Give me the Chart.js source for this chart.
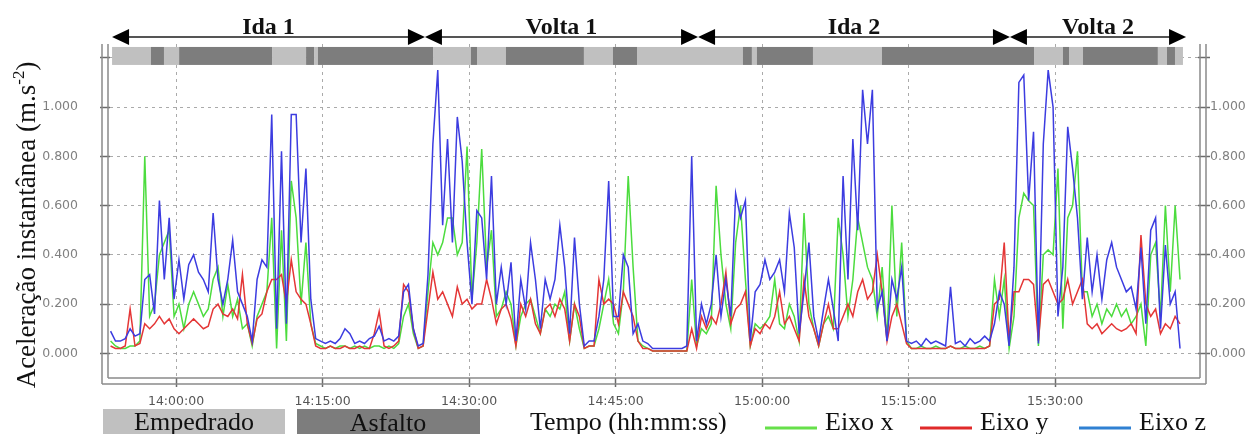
<!DOCTYPE html>
<html lang="pt">
<head>
<meta charset="UTF-8">
<title>Aceleração instantânea - Ida e Volta</title>
<script src="https://cdn.jsdelivr.net/npm/chart.js"></script>
<style>
    html, body { margin: 0; padding: 0; background: #fff; }
    canvas { display: block; }
</style>
</head>
<body>
<canvas id="accelChart" width="1247" height="434"></canvas>

<script>
    // amostras a cada 30 s
    const sampleStart = '13:53:18';
    const sampleStepSec = 30;

    const eixoX = [
        0.05, 0.03, 0.02, 0.02, 0.03, 0.03, 0.05, 0.80, 0.15, 0.20,
        0.40, 0.45, 0.50, 0.15, 0.20, 0.10, 0.20, 0.25, 0.20, 0.15,
        0.18, 0.30, 0.35, 0.15, 0.28, 0.15, 0.22, 0.10, 0.12, 0.03,
        0.15, 0.20, 0.25, 0.55, 0.02, 0.50, 0.05, 0.70, 0.55, 0.20,
        0.45, 0.12, 0.04, 0.03, 0.02, 0.03, 0.02, 0.03, 0.03, 0.02,
        0.03, 0.02, 0.03, 0.02, 0.03, 0.03, 0.02, 0.03, 0.02, 0.04,
        0.15, 0.20, 0.08, 0.02, 0.03, 0.25, 0.45, 0.40, 0.45, 0.55,
        0.55, 0.40, 0.45, 0.84, 0.22, 0.45, 0.83, 0.35, 0.50, 0.15,
        0.18, 0.25, 0.20, 0.03, 0.15, 0.20, 0.22, 0.15, 0.08, 0.18,
        0.15, 0.20, 0.18, 0.25, 0.05, 0.20, 0.10, 0.02, 0.03, 0.03,
        0.10, 0.20, 0.30, 0.12, 0.08, 0.25, 0.72, 0.35, 0.05, 0.03,
        0.02, 0.01, 0.01, 0.01, 0.01, 0.01, 0.01, 0.01, 0.01, 0.30,
        0.03, 0.10, 0.08, 0.12, 0.68, 0.40, 0.20, 0.10, 0.45, 0.60,
        0.30, 0.03, 0.12, 0.10, 0.12, 0.15, 0.30, 0.12, 0.10, 0.20,
        0.15, 0.05, 0.57, 0.20, 0.10, 0.03, 0.12, 0.15, 0.10, 0.55,
        0.40, 0.15, 0.30, 0.55, 0.45, 0.35, 0.30, 0.15, 0.35, 0.05,
        0.60, 0.15, 0.45, 0.05, 0.02, 0.02, 0.03, 0.02, 0.02, 0.03,
        0.02, 0.02, 0.03, 0.02, 0.02, 0.03, 0.02, 0.02, 0.03, 0.02,
        0.03, 0.30, 0.15, 0.30, 0.02, 0.15, 0.55, 0.65, 0.62, 0.60,
        0.03, 0.40, 0.42, 0.40, 0.75, 0.10, 0.55, 0.60, 0.82, 0.25,
        0.25, 0.15, 0.20, 0.12, 0.18, 0.15, 0.20, 0.15, 0.18, 0.12,
        0.15, 0.20, 0.03, 0.40, 0.45, 0.15, 0.60, 0.25, 0.60, 0.30
    ];

    const eixoY = [
        0.03, 0.02, 0.02, 0.03, 0.18, 0.03, 0.04, 0.12, 0.10, 0.12,
        0.15, 0.12, 0.14, 0.10, 0.08, 0.10, 0.12, 0.14, 0.12, 0.10,
        0.11, 0.18, 0.20, 0.16, 0.15, 0.18, 0.14, 0.32, 0.12, 0.04,
        0.14, 0.16, 0.25, 0.30, 0.30, 0.32, 0.20, 0.38, 0.25, 0.22,
        0.20, 0.12, 0.03, 0.02, 0.02, 0.03, 0.02, 0.02, 0.03, 0.02,
        0.02, 0.03, 0.02, 0.02, 0.08, 0.17, 0.03, 0.02, 0.03, 0.05,
        0.28, 0.25, 0.10, 0.02, 0.03, 0.18, 0.33, 0.22, 0.25, 0.20,
        0.15, 0.27, 0.20, 0.22, 0.18, 0.20, 0.20, 0.30, 0.22, 0.12,
        0.18, 0.20, 0.14, 0.03, 0.20, 0.15, 0.22, 0.12, 0.08, 0.18,
        0.20, 0.15, 0.22, 0.18, 0.05, 0.20, 0.15, 0.02, 0.03, 0.03,
        0.30, 0.20, 0.22, 0.20, 0.12, 0.25, 0.20, 0.15, 0.05, 0.02,
        0.02, 0.01, 0.01, 0.01, 0.01, 0.01, 0.01, 0.01, 0.01, 0.10,
        0.02, 0.15, 0.10, 0.15, 0.12, 0.20, 0.33, 0.12, 0.18, 0.20,
        0.25, 0.03, 0.10, 0.08, 0.12, 0.10, 0.15, 0.25, 0.12, 0.15,
        0.10, 0.05, 0.30, 0.15, 0.10, 0.03, 0.12, 0.20, 0.10, 0.10,
        0.15, 0.20, 0.15, 0.25, 0.30, 0.22, 0.25, 0.40, 0.25, 0.05,
        0.15, 0.20, 0.12, 0.04, 0.02, 0.02, 0.02, 0.02, 0.02, 0.02,
        0.02, 0.02, 0.03, 0.02, 0.02, 0.02, 0.02, 0.02, 0.02, 0.02,
        0.03, 0.20, 0.22, 0.45, 0.05, 0.25, 0.25, 0.30, 0.30, 0.28,
        0.05, 0.28, 0.30, 0.25, 0.20, 0.22, 0.30, 0.20, 0.25, 0.30,
        0.12, 0.10, 0.12, 0.08, 0.10, 0.12, 0.10, 0.09, 0.10, 0.12,
        0.08, 0.48, 0.20, 0.15, 0.18, 0.08, 0.12, 0.10, 0.15, 0.12
    ];

    const eixoZ = [
        0.09, 0.05, 0.05, 0.06, 0.10, 0.07, 0.08, 0.30, 0.32, 0.16,
        0.62, 0.30, 0.55, 0.22, 0.38, 0.22, 0.36, 0.40, 0.33, 0.30,
        0.25, 0.57, 0.30, 0.20, 0.30, 0.46, 0.25, 0.20, 0.15, 0.05,
        0.30, 0.38, 0.35, 0.97, 0.10, 0.82, 0.12, 0.97, 0.97, 0.45,
        0.75, 0.22, 0.06, 0.05, 0.04, 0.05, 0.04, 0.06, 0.10, 0.08,
        0.04, 0.05, 0.04, 0.06, 0.07, 0.11, 0.05, 0.06, 0.05, 0.07,
        0.25, 0.28, 0.10, 0.03, 0.04, 0.32, 0.85, 1.15, 0.52, 0.87,
        0.45, 0.96, 0.78, 0.45, 0.20, 0.58, 0.55, 0.30, 0.72, 0.20,
        0.35, 0.20, 0.37, 0.05, 0.30, 0.18, 0.45, 0.30, 0.10, 0.30,
        0.22, 0.30, 0.52, 0.35, 0.08, 0.47, 0.20, 0.03, 0.05, 0.05,
        0.15, 0.30, 0.70, 0.15, 0.15, 0.40, 0.35, 0.08, 0.12, 0.05,
        0.04, 0.02, 0.02, 0.02, 0.02, 0.02, 0.02, 0.02, 0.03, 0.80,
        0.05, 0.20, 0.12, 0.20, 0.40, 0.15, 0.30, 0.15, 0.65, 0.55,
        0.62, 0.05, 0.25, 0.28, 0.38, 0.30, 0.33, 0.38, 0.25, 0.57,
        0.43, 0.08, 0.25, 0.45, 0.15, 0.05, 0.18, 0.30, 0.18, 0.05,
        0.72, 0.30, 0.87, 0.50, 1.07, 0.85, 1.07, 0.18, 0.25, 0.05,
        0.30, 0.22, 0.35, 0.05, 0.04, 0.05, 0.03, 0.06, 0.04, 0.05,
        0.04, 0.03, 0.27, 0.04, 0.05, 0.03, 0.06, 0.04, 0.05, 0.07,
        0.05, 0.12, 0.25, 0.20, 0.03, 0.35, 1.10, 1.13, 0.62, 0.90,
        0.04, 0.85, 1.15, 1.00, 0.15, 0.35, 0.92, 0.75, 0.55, 0.22,
        0.47, 0.25, 0.40, 0.22, 0.38, 0.45, 0.35, 0.30, 0.25, 0.27,
        0.18, 0.43, 0.12, 0.50, 0.55, 0.10, 0.44, 0.20, 0.25, 0.02
    ];

    const timeTicks = ['14:00:00', '14:15:00', '14:30:00', '14:45:00', '15:00:00', '15:15:00', '15:30:00'];
    const accelTicks = [0, 0.2, 0.4, 0.6, 0.8, 1.0, 1.2];
    const accelLabelMax = 1.0;

    const phaseNames = ['Ida 1', 'Volta 1', 'Ida 2', 'Volta 2'];
    const phaseLimits = ['13:53:27', '14:25:29', '14:53:27', '15:25:23', '15:43:25'];

    const surfaceLimits = [
        '13:53:27', '13:57:26', '13:58:46', '14:00:19', '14:09:50', '14:13:19', '14:14:08',
        '14:14:32', '14:26:19', '14:30:12', '14:30:49', '14:33:47', '14:41:46', '14:44:44',
        '14:47:12', '14:58:03', '14:58:58', '14:59:29', '15:05:13', '15:12:17', '15:27:51',
        '15:30:49', '15:31:26', '15:32:52', '15:40:32', '15:41:28', '15:42:17', '15:43:06'
    ];
    const surfaceTypes = [
        'Empedrado', 'Asfalto', 'Empedrado', 'Asfalto', 'Empedrado', 'Asfalto', 'Empedrado',
        'Asfalto', 'Empedrado', 'Asfalto', 'Empedrado', 'Asfalto', 'Empedrado', 'Asfalto',
        'Empedrado', 'Asfalto', 'Empedrado', 'Asfalto', 'Empedrado', 'Asfalto', 'Empedrado',
        'Asfalto', 'Empedrado', 'Asfalto', 'Empedrado', 'Asfalto', 'Empedrado'
    ];

    const surfaceColors = { Empedrado: '#c0c0c0', Asfalto: '#7d7d7d' };
    const serif = '"Liberation Serif", "Times New Roman", serif';

    // minutos desde 14:00:00
    function toMin(hms) {
        const [h, m, s] = hms.split(':').map(Number);
        return h * 60 + m + s / 60 - 14 * 60;
    }
    function toHms(v) {
        const tot = Math.round((v + 14 * 60) * 60);
        const pad = n => String(n).padStart(2, '0');
        return pad(Math.floor(tot / 3600)) + ':' + pad(Math.floor(tot % 3600 / 60)) + ':' + pad(tot % 60);
    }

    const t0 = toMin(sampleStart);
    const toPoints = arr => arr.map((v, i) => ({ x: t0 + i * sampleStepSec / 60, y: v }));

    function line(ctx, x1, y1, x2, y2) {
        ctx.beginPath();
        ctx.moveTo(x1, y1);
        ctx.lineTo(x2, y2);
        ctx.stroke();
    }

    const decorPlugin = {
        id: 'decor',
        beforeDatasetsDraw(chart) {
            const { ctx, scales: { x, y } } = chart;
            const top = y.getPixelForValue(1.244);
            const bot = y.getPixelForValue(1.171);
            ctx.save();
            for (let i = 0; i < surfaceTypes.length; i++) {
                const xa = x.getPixelForValue(toMin(surfaceLimits[i]));
                const xb = x.getPixelForValue(toMin(surfaceLimits[i + 1]));
                ctx.fillStyle = surfaceColors[surfaceTypes[i]];
                ctx.fillRect(xa, top, xb - xa, bot - top);
            }
            ctx.restore();
        },
        afterDraw(chart) {
            const { ctx, chartArea: a, scales: { x } } = chart;
            ctx.save();

            // moldura dupla
            ctx.strokeStyle = '#8a8a8a';
            ctx.lineWidth = 1.5;
            line(ctx, a.left - 2, a.top, a.left - 2, a.bottom);
            line(ctx, a.left - 2, a.bottom, a.right + 2, a.bottom);
            line(ctx, a.right + 2, a.top, a.right + 2, a.bottom);
            line(ctx, a.left - 8, a.top, a.left - 8, a.bottom + 6);
            line(ctx, a.left - 8, a.bottom + 6, a.right + 8, a.bottom + 6);
            line(ctx, a.right + 8, a.top, a.right + 8, a.bottom + 6);

            // setas Ida / Volta
            const ay = 37;
            for (let i = 0; i < phaseNames.length; i++) {
                const xa = x.getPixelForValue(toMin(phaseLimits[i]));
                const xb = x.getPixelForValue(toMin(phaseLimits[i + 1]));
                ctx.strokeStyle = '#555';
                ctx.lineWidth = 2;
                line(ctx, xa + 10, ay, xb - 10, ay);
                ctx.fillStyle = '#000';
                ctx.beginPath();
                ctx.moveTo(xa, ay); ctx.lineTo(xa + 17, ay - 8); ctx.lineTo(xa + 17, ay + 8);
                ctx.closePath(); ctx.fill();
                ctx.beginPath();
                ctx.moveTo(xb, ay); ctx.lineTo(xb - 17, ay - 8); ctx.lineTo(xb - 17, ay + 8);
                ctx.closePath(); ctx.fill();
                ctx.font = 'bold 24px ' + serif;
                ctx.textAlign = 'center';
                ctx.textBaseline = 'alphabetic';
                ctx.fillStyle = '#111';
                ctx.fillText(phaseNames[i], (xa + xb) / 2, 34);
            }

            // titulo do eixo y
            ctx.save();
            ctx.translate(35, 225);
            ctx.rotate(-Math.PI / 2);
            ctx.fillStyle = '#111';
            ctx.textAlign = 'left';
            ctx.textBaseline = 'alphabetic';
            const main = 'Aceleração instantânea (m.s';
            const sup = '-2';
            ctx.font = '27px ' + serif;
            const w1 = ctx.measureText(main).width;
            const w3 = ctx.measureText(')').width;
            ctx.font = '17px ' + serif;
            const w2 = ctx.measureText(sup).width;
            let sx = -(w1 + w2 + w3) / 2;
            ctx.font = '27px ' + serif;
            ctx.fillText(main, sx, 0);
            ctx.font = '17px ' + serif;
            ctx.fillText(sup, sx + w1, -11);
            ctx.font = '27px ' + serif;
            ctx.fillText(')', sx + w1 + w2, 0);
            ctx.restore();

            // legenda inferior
            ctx.fillStyle = surfaceColors.Empedrado;
            ctx.fillRect(103, 409, 182, 25);
            ctx.fillStyle = surfaceColors.Asfalto;
            ctx.fillRect(297, 409, 183, 25);
            ctx.font = '26px ' + serif;
            ctx.fillStyle = '#111';
            ctx.textAlign = 'center';
            ctx.textBaseline = 'alphabetic';
            ctx.fillText('Empedrado', 194, 430);
            ctx.fillText('Asfalto', 388, 431);
            ctx.textAlign = 'left';
            ctx.fillText('Tempo (hh:mm:ss)', 530, 430);

            const keys = [
                { label: 'Eixo x', color: '#66e04a', x: 765 },
                { label: 'Eixo y', color: '#e02a2a', x: 920 },
                { label: 'Eixo z', color: '#2f80d2', x: 1079 }
            ];
            keys.forEach(k => {
                ctx.strokeStyle = k.color;
                ctx.lineWidth = 3;
                line(ctx, k.x, 428, k.x + 52, 428);
                ctx.fillStyle = '#111';
                ctx.fillText(k.label, k.x + 60, 430);
            });

            ctx.restore();
        }
    };

    const tickFont = { family: '"DejaVu Sans", sans-serif', size: 12.5 };

    new Chart(document.getElementById('accelChart'), {
        type: 'line',
        data: {
            datasets: [
                { label: 'Eixo x', data: toPoints(eixoX), borderColor: '#4cdc3e', order: 3 },
                { label: 'Eixo y', data: toPoints(eixoY), borderColor: '#e43636', order: 2 },
                { label: 'Eixo z', data: toPoints(eixoZ), borderColor: '#3c3ce0', order: 1 }
            ]
        },
        options: {
            responsive: false,
            devicePixelRatio: 1,
            animation: false,
            layout: { padding: { top: 44, left: 0, right: 0, bottom: 0 } },
            elements: {
                line: { borderWidth: 1.5, tension: 0 },
                point: { radius: 0 }
            },
            plugins: {
                legend: { display: false },
                tooltip: { enabled: false }
            },
            scales: {
                x: {
                    type: 'linear',
                    position: 'bottom',
                    min: -6.76,
                    max: 104.64,
                    afterBuildTicks: s => { s.ticks = timeTicks.map(t => ({ value: toMin(t) })); },
                    afterFit: s => { s.height = 56; },
                    grid: { color: '#aaaaaa', tickLength: 9, tickColor: '#6a6a6a', tickWidth: 1.5 },
                    border: { display: false, dash: [3, 4] },
                    ticks: {
                        font: tickFont, color: '#555', padding: 7, maxRotation: 0, autoSkip: false,
                        callback: v => toHms(v)
                    }
                },
                y: {
                    position: 'left',
                    min: -0.1,
                    max: 1.256,
                    afterBuildTicks: s => { s.ticks = accelTicks.map(v => ({ value: v })); },
                    afterFit: s => { s.width = 110; },
                    grid: { color: '#aaaaaa', tickLength: 10, tickColor: '#6a6a6a', tickWidth: 1.5 },
                    border: { display: false, dash: [3, 4] },
                    ticks: {
                        font: tickFont, color: '#808080', padding: 22,
                        callback: v => v <= accelLabelMax ? v.toFixed(3) : ''
                    }
                },
                y2: {
                    position: 'right',
                    min: -0.1,
                    max: 1.256,
                    afterBuildTicks: s => { s.ticks = accelTicks.map(v => ({ value: v })); },
                    afterFit: s => { s.width = 49; },
                    grid: { drawOnChartArea: false, tickLength: 12, tickColor: '#6a6a6a', tickWidth: 1.5 },
                    border: { display: false },
                    ticks: {
                        font: tickFont, color: '#808080', padding: 0,
                        callback: v => v <= accelLabelMax ? v.toFixed(3) : ''
                    }
                }
            }
        },
        plugins: [decorPlugin]
    });
</script>
</body>
</html>
